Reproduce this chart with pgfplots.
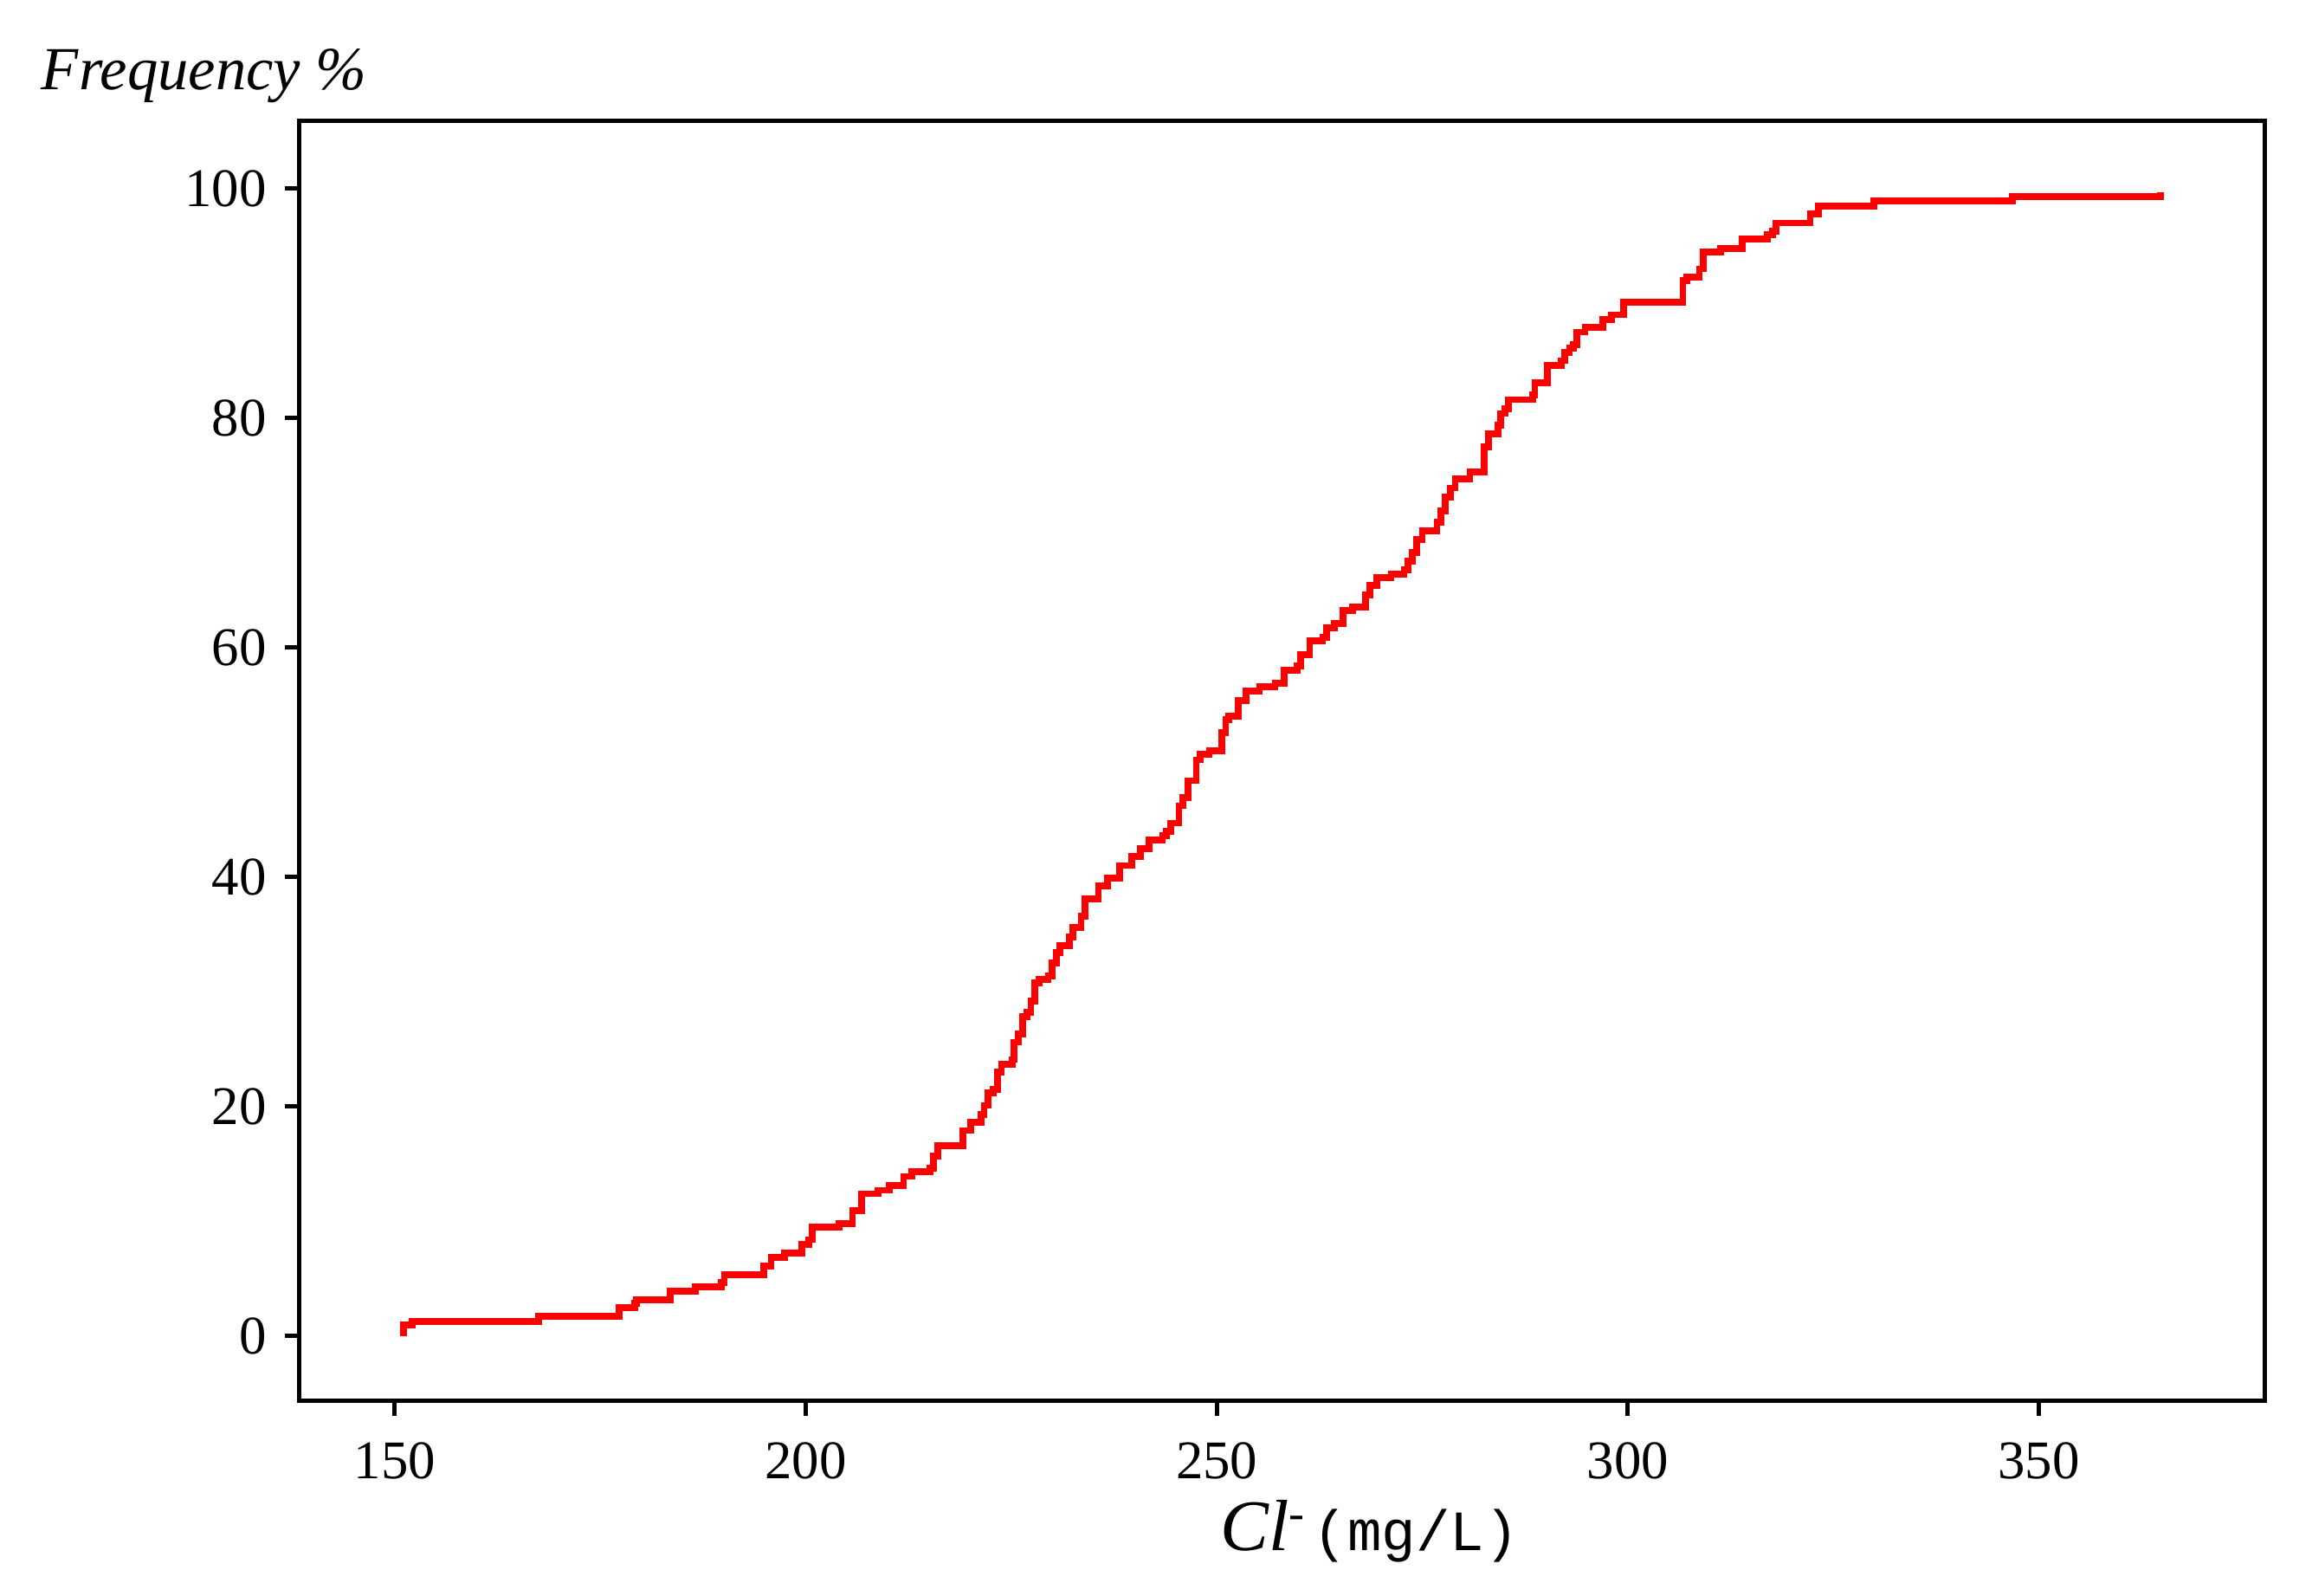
\documentclass[border=0pt]{standalone}
\usepackage{pgfplots}
\pgfplotsset{compat=1.18}
\usepackage{fontspec}
\setmainfont{Liberation Serif}
\setmonofont{Liberation Mono}

\begin{document}
\begin{tikzpicture}
\begin{axis}[
    name=ax,
    scale only axis,
    width=13.33cm, height=8.68cm,
    xmin=138.4, xmax=377.5,
    ymin=-5.66, ymax=105.9,
    xtick={150,200,...,350},
    ytick={0,20,...,100},
    tick align=outside,
    xtick pos=bottom, ytick pos=left,
    major tick length=0.1cm,
    axis line style={line width=0.9pt},
    every tick/.style={black, line width=0.8pt},
    tick label style={font=\fontsize{10.5}{12}\selectfont},
    /pgf/number format/assume math mode=true,
    xticklabel style={yshift=-0.06cm},
    xlabel={{\fontsize{14}{16}\selectfont\itshape Cl}\raisebox{0.9ex}{\fontsize{9}{10}\selectfont -}\hspace{0.06cm}{\fontsize{11}{13}\selectfont\ttfamily(mg/L)}},
    xlabel style={at={(axis description cs:0.5445,0)}, anchor=north, yshift=-0.55cm},
    ylabel={\fontsize{11.8}{14}\selectfont\itshape Frequency \%},
    ylabel style={rotate=-90, at={(axis description cs:-0.1405,1.035)}, anchor=west},
]
\addplot[const plot mark left, red, line width=1.3pt] coordinates {
(151.1,0) (151.1,0.96) (152.1,1.28) (167.5,1.7) (177.3,2.47) (179.2,2.84)
(179.4,3.14) (183.5,3.9) (186.6,4.28) (189.7,4.65) (190.1,5.36) (194.9,6.1)
(195.8,6.87) (197.4,7.25) (199.5,8.0) (200.4,8.4) (200.8,9.5) (204.1,9.76)
(205.7,10.9) (206.8,12.4) (208.8,12.7) (210.2,13.1) (211.9,13.9) (212.9,14.3)
(215.1,14.6) (215.5,15.7) (216.1,16.6) (219.1,17.9) (220.1,18.6) (221.3,19.3)
(221.7,20.1) (222.2,21.2) (222.8,21.5) (223.3,23.0) (223.8,23.7) (225.1,24.1)
(225.3,25.6) (225.9,26.3) (226.4,27.8) (226.9,28.2) (227.4,29.2) (227.9,30.8)
(228.4,31.1) (229.5,31.4) (230.0,32.5) (230.5,33.4) (230.9,34.0) (232.1,34.8)
(232.5,35.6) (233.5,36.6) (234.0,38.1) (235.6,39.2) (236.7,39.9) (238.2,41.0)
(239.7,41.8) (240.7,42.5) (241.8,43.2) (243.4,43.6) (243.9,44.0) (244.4,44.7)
(245.4,46.2) (245.9,46.9) (246.5,48.4) (247.5,50.2) (248.0,50.7) (249.1,51.0)
(250.6,52.6) (251.1,53.7) (251.5,54.0) (252.6,55.4) (253.6,56.2) (255.2,56.6)
(257.1,56.9) (258.2,58.0) (259.8,58.4) (260.2,59.4) (261.3,60.6) (262.9,60.9)
(263.4,61.7) (264.3,62.1) (265.4,63.2) (266.5,63.5) (268.1,64.6) (268.6,65.4)
(269.5,66.1) (271.2,66.4) (272.8,66.8) (273.3,67.5) (273.8,68.3) (274.3,69.4)
(275.0,70.2) (276.8,70.9) (277.3,71.9) (277.8,73.1) (278.4,73.9) (279.0,74.7)
(280.8,75.3) (282.5,77.5) (283.1,78.6) (284.2,79.4) (284.5,80.4) (285.1,80.8)
(285.5,81.6) (288.4,82.0) (288.7,83.1) (290.2,84.6) (291.9,85.0) (292.3,85.7)
(292.9,86.1) (293.4,86.4) (293.8,87.5) (294.8,87.9) (297.0,88.6) (298.0,89.0)
(299.5,90.1) (306.7,92.0) (307.2,92.3) (308.7,93.0) (309.2,94.5) (311.3,94.8)
(313.9,95.6) (317.0,96.0) (317.6,96.3) (318.0,97.0) (322.2,97.8) (323.2,98.5)
(329.9,98.9) (346.8,99.3) (364.8,99.7)
};
\end{axis}
\path ([xshift=-2.03cm,yshift=-1.32cm]ax.south west) rectangle ([xshift=0.32cm,yshift=0.82cm]ax.north east);
\end{tikzpicture}
\end{document}
